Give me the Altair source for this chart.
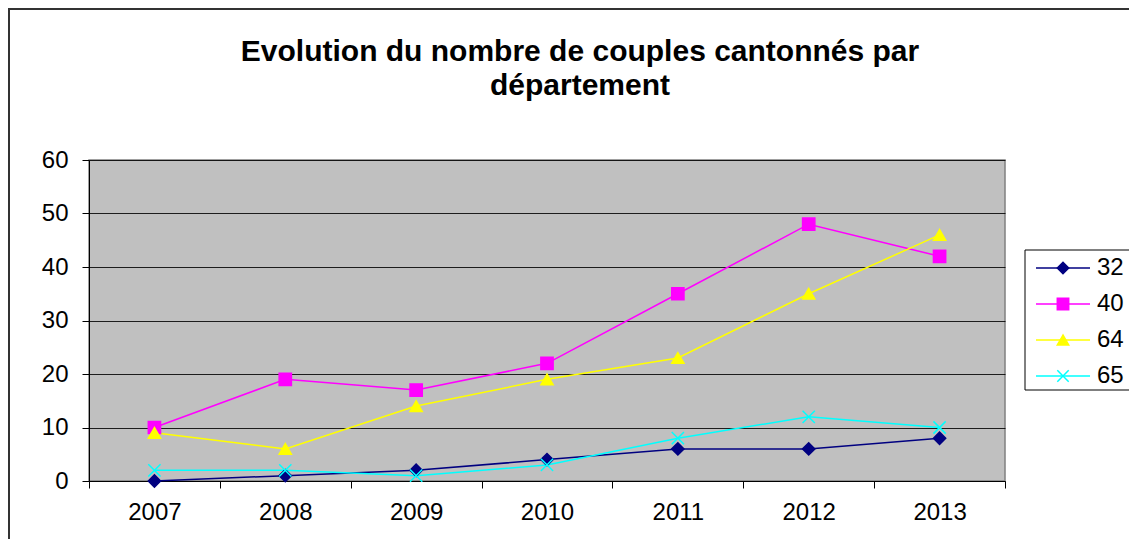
import altair as alt
import pandas as pd

years = ["2007", "2008", "2009", "2010", "2011", "2012", "2013"]
series = ["32", "40", "64", "65"]
v32 = [0, 1, 2, 4, 6, 6, 8]
v40 = [10, 19, 17, 22, 35, 48, 42]
v64 = [9, 6, 14, 19, 23, 35, 46]
v65 = [2, 2, 1, 3, 8, 12, 10]
colors = ["#000080", "#FF00FF", "#FFFF00", "#00FFFF"]
shapes = ["diamond", "square", "triangle-up", "M-1,-1L1,1M-1,1L1,-1"]
title_lines = ["Evolution du nombre de couples cantonnés par", "département"]

rows = []
for s, vals in zip(series, [v32, v40, v64, v65]):
    for y, v in zip(years, vals):
        rows.append({"year": y, "series": s, "value": v})
df = pd.DataFrame(rows)
leg_df = pd.DataFrame({"series": series})
one = pd.DataFrame({"k": [0]})

FONT = "Liberation Sans"

color_scale = alt.Scale(domain=series, range=colors)
shape_scale = alt.Scale(domain=series, range=shapes)

x_enc = alt.X(
    "year:O",
    sort=years,
    scale=alt.Scale(paddingInner=0, paddingOuter=0),
    axis=alt.Axis(
        title=None,
        labelAngle=0,
        labelFont=FONT,
        labelFontSize=24,
        labelColor="#000000",
        labelPadding=12,
        tickBand="extent",
        tickSize=7,
        tickColor="#000000",
        domainColor="#000000",
        grid=False,
    ),
)
y_enc = alt.Y(
    "value:Q",
    scale=alt.Scale(domain=[0, 60], nice=False),
    axis=alt.Axis(
        title=None,
        values=[0, 10, 20, 30, 40, 50, 60],
        labelFont=FONT,
        labelFontSize=24,
        labelColor="#000000",
        labelPadding=14,
        tickSize=7,
        tickColor="#000000",
        domainColor="#000000",
        gridColor="#000000",
        gridOpacity=0.85,
    ),
)

frame = alt.Chart(one).mark_rect(
    fill="#FFFFFF", fillOpacity=0, stroke="#333333", strokeWidth=2
).encode(x=alt.value(-80), x2=alt.value(1200), y=alt.value(-151), y2=alt.value(600))

lines = alt.Chart(df).mark_line(strokeWidth=1.5).encode(
    x=x_enc,
    y=y_enc,
    color=alt.Color("series:N", scale=color_scale, legend=None),
)

points = alt.Chart(df).mark_point(filled=True, size=150, strokeWidth=1.5, opacity=1).encode(
    x=x_enc,
    y=y_enc,
    color=alt.Color("series:N", scale=color_scale, legend=None),
    stroke=alt.Stroke("series:N", scale=color_scale, legend=None),
    shape=alt.Shape("series:N", scale=shape_scale, legend=None),
)

leg_y = alt.Y(
    "series:N",
    sort=series,
    scale=alt.Scale(type="point", domain=series, range=[108, 216], padding=0),
    axis=None,
)

leg_box = alt.Chart(one).mark_rect(fill="#FFFFFF", stroke="#000000", strokeWidth=1).encode(
    x=alt.value(936), x2=alt.value(1046), y=alt.value(90), y2=alt.value(230)
)
leg_lines = alt.Chart(leg_df).mark_rule(strokeWidth=1.5).encode(
    x=alt.value(947),
    x2=alt.value(1001),
    y=leg_y,
    color=alt.Color("series:N", scale=color_scale, legend=None),
)
leg_points = alt.Chart(leg_df).mark_point(filled=True, size=130, strokeWidth=1.5, opacity=1).encode(
    x=alt.value(974),
    y=leg_y,
    color=alt.Color("series:N", scale=color_scale, legend=None),
    stroke=alt.Stroke("series:N", scale=color_scale, legend=None),
    shape=alt.Shape("series:N", scale=shape_scale, legend=None),
)
leg_text = alt.Chart(leg_df).mark_text(
    align="left", baseline="middle", font=FONT, fontSize=24, color="#000000"
).encode(
    x=alt.value(1008),
    y=leg_y,
    text="series:N",
)

main = alt.layer(lines, points)
legend = alt.layer(leg_box, leg_lines, leg_points, leg_text)

chart = (
    alt.layer(frame, main, legend)
    .resolve_scale(y="independent")
    .properties(
        width=916,
        height=321,
        background="#FFFFFF",
        autosize=alt.AutoSizeParams(type="none"),
        padding={"left": 81, "top": 152, "right": 124, "bottom": 58},
        title=alt.TitleParams(
            text=title_lines,
            font=FONT,
            fontSize=30,
            fontWeight="bold",
            color="#000000",
            anchor="middle",
            frame="group",
            dx=33,
            offset=-93,
            lineHeight=34,
        ),
    )
    .configure_view(fill="#C0C0C0", stroke="#808080", strokeWidth=1.5)
)

chart.save("out.html", embed_options={"renderer": "svg", "actions": False})
